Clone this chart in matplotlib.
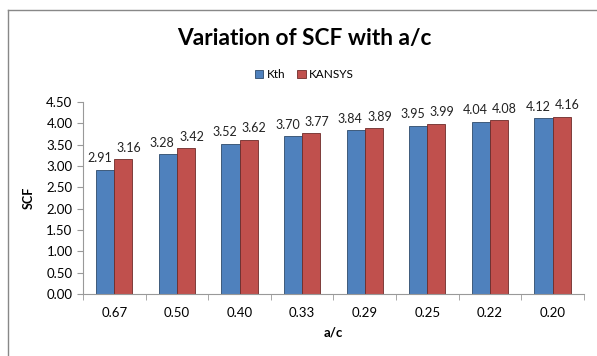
import numpy as np
import matplotlib.pyplot as plt
from matplotlib.lines import Line2D

categories = ['0.67', '0.50', '0.40', '0.33', '0.29', '0.25', '0.22', '0.20']
kth = [2.91, 3.28, 3.52, 3.70, 3.84, 3.95, 4.04, 4.12]
kansys = [3.16, 3.42, 3.62, 3.77, 3.89, 3.99, 4.08, 4.16]

plt.rcParams['font.family'] = ['Lato', 'DejaVu Sans']

fig = plt.figure(figsize=(5.97, 3.56), dpi=100)
ax = fig.add_axes([0.139, 0.174, 0.839, 0.539])

x = np.arange(len(categories))
w = 0.29
b1 = ax.bar(x - w/2, kth, w, color='#4F81BD', edgecolor='#2E4A6B', linewidth=0.6, label='Kth')
b2 = ax.bar(x + w/2, kansys, w, color='#C0504D', edgecolor='#6E2B29', linewidth=0.6, label='KANSYS')

# value labels, nudged apart sideways like the original
for bars, dx in ((b1, -4), (b2, 4)):
    for r in bars:
        ax.annotate('%.2f' % r.get_height(), (r.get_x() + r.get_width()/2, r.get_height()),
                    xytext=(dx, 4), textcoords='offset points',
                    ha='center', va='bottom', fontsize=9, color='#222222')

ax.set_xlim(-0.5, len(categories) - 0.5)
ax.set_ylim(0, 4.5)
ax.set_yticks(np.arange(0, 4.51, 0.5))
ax.set_yticklabels(['%.2f' % v for v in np.arange(0, 4.51, 0.5)])
ax.set_xticks(x)
ax.set_xticklabels(categories)
ax.set_xticks(np.arange(-0.5, len(categories), 1), minor=True)
ax.tick_params(axis='x', which='major', length=0, pad=9, labelsize=9.5)
ax.tick_params(axis='x', which='minor', length=4, color='#999999')
ax.tick_params(axis='y', length=4, color='#999999', labelsize=9.5)

for s in ('top', 'right'):
    ax.spines[s].set_visible(False)
for s in ('left', 'bottom'):
    ax.spines[s].set_color('#999999')

ax.set_ylabel('SCF', fontsize=9, fontweight='bold', labelpad=8)
ax.set_xlabel('a/c', fontsize=9.5, fontweight='bold', labelpad=6)

fig.text(0.509, 0.893, 'Variation of SCF with a/c', ha='center', va='center',
         fontsize=16.3, fontweight='bold')
fig.legend(handles=[b1, b2], labels=['Kth', 'KANSYS'], loc='center', bbox_to_anchor=(0.51, 0.79),
           ncol=2, frameon=False, fontsize=8.5, handlelength=0.7, handleheight=0.7,
           handletextpad=0.3, columnspacing=1.0)

# chart frame
fig.add_artist(Line2D([0.014, 0.014], [0, 0.972], transform=fig.transFigure, color='#888888', lw=1))
fig.add_artist(Line2D([0.014, 1.0], [0.972, 0.972], transform=fig.transFigure, color='#888888', lw=1))

fig.savefig('out.png', dpi=100)
